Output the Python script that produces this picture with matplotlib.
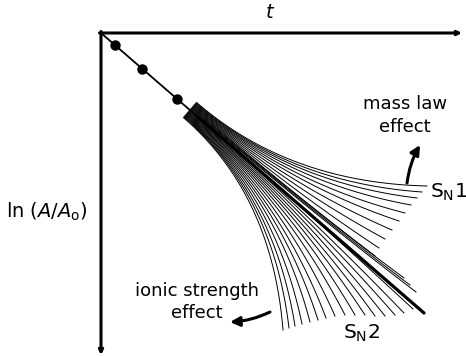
import numpy as np
import matplotlib
matplotlib.use("Agg")
import matplotlib.pyplot as plt
from matplotlib.patches import FancyArrowPatch

# diagram coordinates (x = t, y = -ln(A/A0)), in figure pixel units
origin = (101, 33)
line_end = (424, 313)
dots_x = [115, 142, 177]

fan_center = (190, 110)

# end points of the fan curves, outermost "mass law" curve first
ends_x = [427, 422, 417, 411, 405, 399, 392, 385, 379, 375, 404, 410, 416,
          413, 404, 395, 385, 375, 365, 355, 345, 335, 326, 318, 310, 302, 295, 289, 283]
ends_y = [186, 192, 198, 205, 213, 221, 230, 239, 248, 256, 278, 285, 292,
          309, 313, 315, 316, 316, 315, 315, 315, 316, 318, 320, 322, 324, 326, 328, 330]

fig = plt.figure(figsize=(4.66, 3.57), dpi=100)
ax = fig.add_axes([0, 0, 1, 1])
ax.set_xlim(0, 466)
ax.set_ylim(357, 0)
ax.axis("off")

# axes with small arrow heads
ax.annotate("", xy=(462, 33), xytext=(99.5, 33),
            arrowprops=dict(arrowstyle="-|>", lw=2.2, color="black",
                            mutation_scale=6, shrinkA=0, shrinkB=0))
ax.annotate("", xy=(101, 355), xytext=(101, 31.5),
            arrowprops=dict(arrowstyle="-|>", lw=2.2, color="black",
                            mutation_scale=6, shrinkA=0, shrinkB=0))

# main straight line
slope = (line_end[1] - origin[1]) / (line_end[0] - origin[0])
ax.plot([origin[0], line_end[0]], [origin[1], line_end[1]], color="black", lw=1.3)
ax.plot([200, line_end[0]], [origin[1] + slope * (200 - origin[0]), line_end[1]],
        color="black", lw=2.3, solid_capstyle="round")
ax.plot(dots_x, [origin[1] + slope * (x - origin[0]) for x in dots_x], "o",
        color="black", ms=6.5)

# fan of curves (quadratic Bezier, starting tangent to the main line)
u = np.array([line_end[0] - origin[0], line_end[1] - origin[1]], float)
u /= np.hypot(*u)
n = np.array([u[1], -u[0]])
c = np.array(fan_center, float)
offsets = np.linspace(10, -10, len(ends_x))
s = np.linspace(0, 1, 60)[:, None]
for ex, ey, off in zip(ends_x, ends_y, offsets):
    p0 = c + off * n
    p2 = np.array([ex, ey], float)
    p1 = p0 + 0.5 * np.hypot(*(p2 - p0)) * u
    pts = (1 - s) ** 2 * p0 + 2 * (1 - s) * s * p1 + s ** 2 * p2
    ax.plot(pts[:, 0], pts[:, 1], color="black", lw=0.7)

# effect arrows
ax.add_patch(FancyArrowPatch((407, 183), (420, 145), connectionstyle="arc3,rad=-0.1",
                             arrowstyle="-|>", mutation_scale=14, lw=2.2, color="black",
                             shrinkA=0, shrinkB=0))
ax.add_patch(FancyArrowPatch((270, 312), (230, 322), connectionstyle="arc3,rad=-0.1",
                             arrowstyle="-|>", mutation_scale=14, lw=2.2, color="black",
                             shrinkA=0, shrinkB=0))

fs = 13
ax.text(270, 12, "$t$", fontsize=14, ha="center", va="center")
ax.text(6, 212, "ln ($A$/$A_\\mathregular{o}$)", fontsize=14, ha="left", va="center")
ax.text(405, 104, "mass law", fontsize=fs, ha="center", va="center")
ax.text(405, 127, "effect", fontsize=fs, ha="center", va="center")
ax.text(197, 291, "ionic strength", fontsize=fs, ha="center", va="center")
ax.text(197, 313, "effect", fontsize=fs, ha="center", va="center")
ax.text(430, 192, "S$_\\mathregular{N}$1", fontsize=14.5, ha="left", va="center")
ax.text(343, 333, "S$_\\mathregular{N}$2", fontsize=14.5, ha="left", va="center")

fig.savefig("out.png", dpi=100)
